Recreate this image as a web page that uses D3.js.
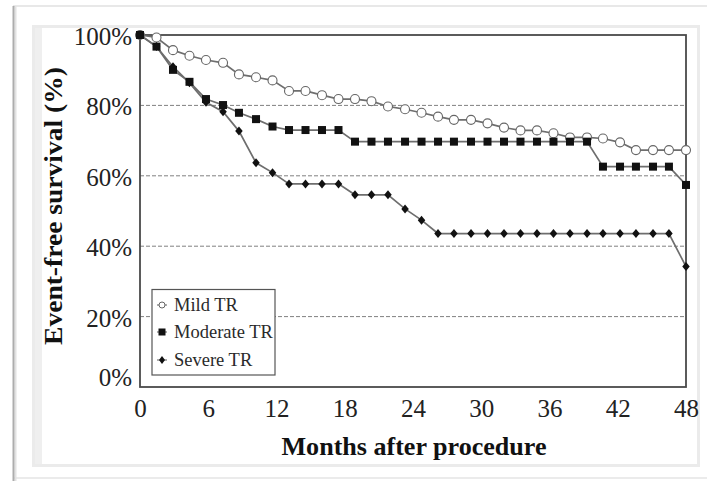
<!DOCTYPE html>
<html>
<head>
<meta charset="utf-8">
<script src="https://cdn.jsdelivr.net/npm/d3@7"></script>
<style>
  html, body { margin: 0; padding: 0; background: #fff; }
  svg { display: block; }
</style>
</head>
<body>
<svg id="chart" width="707" height="481"></svg>
<script>
// ---- data ----
const months = [0, 1.45, 2.9, 4.35, 5.8, 7.3, 8.7, 10.2, 11.65, 13.1, 14.55, 16, 17.45, 18.9, 20.35, 21.8, 23.3, 24.75, 26.2, 27.6, 29.1, 30.55, 32, 33.45, 34.9, 36.35, 37.8, 39.3, 40.7, 42.2, 43.6, 45.1, 46.5, 48];
const mildTR = [100, 99.3, 95.7, 94.1, 92.9, 92.1, 88.8, 88.0, 87.1, 84.1, 84.1, 82.9, 81.8, 81.8, 81.2, 79.7, 78.9, 77.9, 76.8, 75.9, 75.9, 74.9, 73.7, 72.9, 72.9, 72.1, 70.9, 70.9, 70.6, 69.5, 67.3, 67.3, 67.3, 67.3];
const moderateTR = [100, 96.7, 90.1, 86.7, 81.8, 80.1, 77.9, 76.1, 74.0, 73.0, 73.0, 73.0, 73.0, 69.7, 69.7, 69.7, 69.7, 69.7, 69.7, 69.7, 69.7, 69.7, 69.7, 69.7, 69.7, 69.7, 69.7, 69.7, 62.6, 62.6, 62.6, 62.6, 62.6, 57.4];
const severeTR = [100, 96.7, 91.0, 86.4, 80.9, 78.2, 72.7, 63.7, 60.9, 57.7, 57.7, 57.7, 57.7, 54.6, 54.6, 54.6, 50.6, 47.4, 43.6, 43.6, 43.6, 43.6, 43.6, 43.6, 43.6, 43.6, 43.6, 43.6, 43.6, 43.6, 43.6, 43.6, 43.6, 34.2];
const seriesNames = ["Mild TR", "Moderate TR", "Severe TR"];
const xTicks = [0, 6, 12, 18, 24, 30, 36, 42, 48];
const yTicks = [0, 20, 40, 60, 80, 100];
const xTitle = "Months after procedure";
const yTitle = "Event-free survival (%)";

// ---- layout ----
const svg = d3.select("#chart");
const L = 140, R = 686, T = 35, B = 387;
const x = d3.scaleLinear().domain([0, 48]).range([L, R]);
const y = d3.scaleLinear().domain([0, 100]).range([B, T]);
const serif = "'Liberation Serif', 'Times New Roman', serif";

// picture frame (scanned figure border)
svg.append("line").attr("x1", 13).attr("x2", 707).attr("y1", 6).attr("y2", 6)
  .attr("stroke", "#e8e8e8").attr("stroke-width", 2);
svg.append("line").attr("x1", 13).attr("x2", 707).attr("y1", 478).attr("y2", 478)
  .attr("stroke", "#ebebeb").attr("stroke-width", 2);
svg.append("line").attr("x1", 15.5).attr("x2", 15.5).attr("y1", 6).attr("y2", 481)
  .attr("stroke", "#e2e2e2").attr("stroke-width", 2);
svg.append("line").attr("x1", 13.5).attr("x2", 13.5).attr("y1", 6).attr("y2", 481)
  .attr("stroke", "#adadad").attr("stroke-width", 2);
svg.append("rect").attr("x", 32).attr("y", 26).attr("width", 10).attr("height", 440)
  .attr("fill", "#efefef");
svg.append("rect").attr("x", 33.5).attr("y", 26.5).attr("width", 665).attr("height", 439)
  .attr("fill", "none").attr("stroke", "#ebebeb").attr("stroke-width", 3);

// plot background
svg.append("rect").attr("x", L).attr("y", T).attr("width", R - L).attr("height", B - T)
  .attr("fill", "#fff");

// gridlines
svg.append("g").selectAll("line").data(yTicks.filter(d => d > 0 && d < 100)).join("line")
  .attr("x1", L).attr("x2", R).attr("y1", d => y(d)).attr("y2", d => y(d))
  .attr("stroke", "#808080").attr("stroke-width", 1).attr("stroke-dasharray", "4,2");

// axes
const yAxis = svg.append("g").attr("transform", `translate(${L},0)`)
  .call(d3.axisLeft(y).tickValues(yTicks).tickSize(0).tickPadding(8).tickFormat(d => d + "%"));
yAxis.select(".domain").remove();
yAxis.selectAll("text").attr("font-family", serif).attr("font-size", 25).attr("fill", "#222")
  .attr("dy", d => d === 0 ? "-0.05em" : "0.38em");

const xAxis = svg.append("g").attr("transform", `translate(0,${B})`)
  .call(d3.axisBottom(x).tickValues(xTicks).tickSize(0).tickPadding(12));
xAxis.select(".domain").remove();
xAxis.selectAll("text").attr("font-family", serif).attr("font-size", 25).attr("fill", "#222");

// plot frame
svg.append("rect").attr("x", L).attr("y", T).attr("width", R - L).attr("height", B - T)
  .attr("fill", "none").attr("stroke", "#4a4a4a").attr("stroke-width", 1.8);

// series
const diamond = (cx, cy, w, h) => {
  const p = d3.path();
  p.moveTo(cx, cy - h / 2); p.lineTo(cx + w / 2, cy); p.lineTo(cx, cy + h / 2); p.lineTo(cx - w / 2, cy); p.closePath();
  return p.toString();
};
const series = [
  { name: seriesNames[0], values: mildTR, kind: "circle" },
  { name: seriesNames[1], values: moderateTR, kind: "square" },
  { name: seriesNames[2], values: severeTR, kind: "diamond" }
];
const line = d3.line().x((d, i) => x(months[i])).y(d => y(d));

series.forEach(s => {
  svg.append("path").attr("d", line(s.values)).attr("fill", "none")
    .attr("stroke", "#6e6e6e").attr("stroke-width", 1.7);
});
series.forEach(s => {
  const g = svg.append("g");
  const pts = s.values.map((v, i) => [x(months[i]), y(v)]);
  if (s.kind === "circle") {
    g.selectAll("circle").data(pts).join("circle")
      .attr("cx", d => d[0]).attr("cy", d => d[1]).attr("r", 4.5)
      .attr("fill", "#fff").attr("stroke", "#666").attr("stroke-width", 1.1);
  } else if (s.kind === "square") {
    g.selectAll("rect").data(pts).join("rect")
      .attr("x", d => d[0] - 4).attr("y", d => d[1] - 4).attr("width", 8).attr("height", 8)
      .attr("fill", "#111");
  } else {
    g.selectAll("path").data(pts).join("path")
      .attr("d", d => diamond(d[0], d[1], 7.5, 9)).attr("fill", "#111");
  }
});

// legend
const lg = svg.append("g");
lg.append("rect").attr("x", 152).attr("y", 289.5).attr("width", 123).attr("height", 85.5)
  .attr("fill", "#fff").attr("stroke", "#555").attr("stroke-width", 1.2);
const legendY = [305, 332, 360];
series.forEach((s, i) => {
  const cy = legendY[i], cx = 162;
  lg.append("line").attr("x1", cx - 5).attr("x2", cx + 5).attr("y1", cy).attr("y2", cy)
    .attr("stroke", "#777").attr("stroke-width", 1.2);
  if (s.kind === "circle") {
    lg.append("circle").attr("cx", cx).attr("cy", cy).attr("r", 3)
      .attr("fill", "#fff").attr("stroke", "#666").attr("stroke-width", 1);
  } else if (s.kind === "square") {
    lg.append("rect").attr("x", cx - 3.5).attr("y", cy - 3.5).attr("width", 7).attr("height", 7).attr("fill", "#111");
  } else {
    lg.append("path").attr("d", diamond(cx, cy, 6, 8)).attr("fill", "#111");
  }
  lg.append("text").attr("x", 174).attr("y", cy + 6).text(s.name)
    .attr("font-family", serif).attr("font-size", 18.5).attr("fill", "#2a2a2a");
});

// titles
svg.append("text").attr("x", 414).attr("y", 455).attr("text-anchor", "middle")
  .attr("font-family", serif).attr("font-weight", "bold").attr("font-size", 26).attr("fill", "#111")
  .attr("textLength", 265).attr("lengthAdjust", "spacingAndGlyphs")
  .text(xTitle);
svg.append("text").attr("transform", "translate(62,206) rotate(-90)").attr("text-anchor", "middle")
  .attr("font-family", serif).attr("font-weight", "bold").attr("font-size", 26).attr("fill", "#111")
  .attr("textLength", 278).attr("lengthAdjust", "spacingAndGlyphs")
  .text(yTitle);
</script>
</body>
</html>
